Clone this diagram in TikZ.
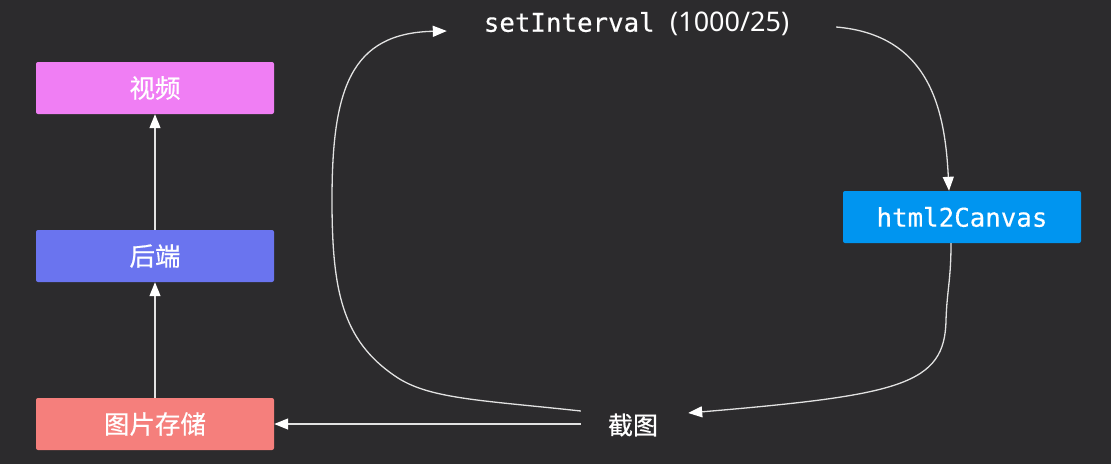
\documentclass[tikz,border=0pt]{standalone}
\usepackage{fontspec}
\newfontfamily\cjk{Noto Sans CJK SC}[FakeBold=0.6]
\newfontfamily\monof{DejaVu Sans Mono}[FakeBold=0.3]
\newfontfamily\sansf{Noto Sans}
\usetikzlibrary{arrows.meta,calc}
\definecolor{bg}{HTML}{2C2B2D}
\definecolor{pinkc}{HTML}{F07EF4}
\definecolor{bluec}{HTML}{6A74EF}
\definecolor{redc}{HTML}{F57F7C}
\definecolor{cyanc}{HTML}{0095F0}
\definecolor{linec}{HTML}{E2E2E2}
\begin{document}
\begin{tikzpicture}[x=1pt,y=-1pt,
  box/.style={rectangle, rounded corners=2pt, minimum width=238pt, minimum height=52pt, inner sep=0pt, text=white, font=\cjk\fontsize{25.5}{30}\selectfont},
  lbl/.style={inner sep=0pt, text=white},
  conn/.style={draw=linec, line width=1.3pt, -{Triangle[width=11pt,length=14pt,color=white]}}
]
\fill[bg] (0,0) rectangle (1111,464);
\useasboundingbox (0,0) rectangle (1111,464);

\node[box, fill=pinkc] (video) at (155,88) {视频};
\node[box, fill=bluec] (backend) at (155,256) {后端};
\node[box, fill=redc] (store) at (155,424) {图片存储};
\node[box, fill=cyanc, font=\monof\fontsize{25.8}{30}\selectfont] (h2c) at (962,217) {html2Canvas};
\node[lbl, minimum width=104pt, minimum height=30pt, font=\cjk\fontsize{25}{30}\selectfont] (jt) at (633,425) {截图};
\node[lbl, minimum width=389pt, minimum height=30pt, font=\monof\fontsize{25.8}{30}\selectfont] (si) at (641.5,24) {\hspace*{-10pt}setInterval {\sansf\fontsize{27}{30}\selectfont(1000/25)}};

\draw[conn] (store.north) -- (backend.south);
\draw[conn] (backend.north) -- (video.south);
\draw[conn] ($(jt.west)+(0,-1)$) -- (store.east);

\draw[conn] ($(jt.west)+(0,-14)$) .. controls (480,400) and (428,399) .. (395,376)
  .. controls (342,340) and (332,290) .. (332,200)
  .. controls (332,90) and (350,33) .. ($(si.west)+(0,7)$);

\draw[conn] ($(si.east)+(0,3)$) .. controls (930,35) and (945,110) .. ($(h2c.north)+(-13,0)$);

\draw[conn] ($(h2c.south)+(-11,0)$) .. controls (951,280) and (947,290) .. (946,320)
  .. controls (945,385) and (900,395) .. ($(jt.east)+(3,-12)$);
\end{tikzpicture}
\end{document}
